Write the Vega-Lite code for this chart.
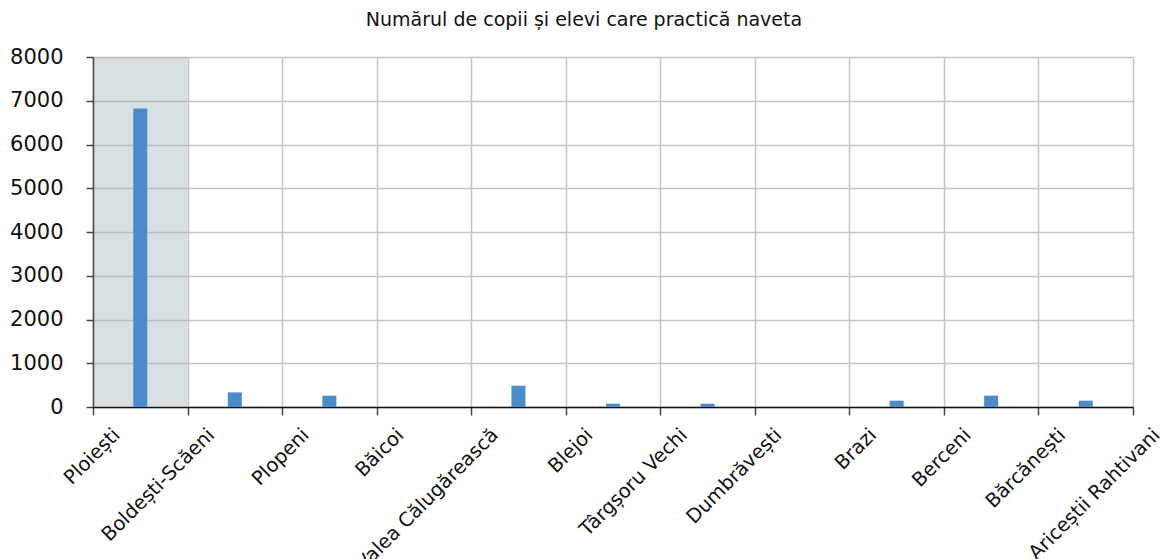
{
  "$schema": "https://vega.github.io/schema/vega-lite/v6.json",
  "width": 1040,
  "height": 350,
  "autosize": {"type": "none"},
  "padding": {"left": 93, "top": 57, "right": 28, "bottom": 152},
  "background": "white",
  "title": {"text": "Numărul de copii și elevi care practică naveta", "font": "DejaVu Sans", "fontSize": 19, "fontWeight": "normal", "color": "#111", "anchor": "middle", "frame": "group", "offset": 16, "dx": -29},
  "data": {"values": [
    {"localitate": "Ploiești", "elevi": 6825},
    {"localitate": "Boldești-Scăeni", "elevi": 334},
    {"localitate": "Plopeni", "elevi": 259},
    {"localitate": "Băicoi", "elevi": 0},
    {"localitate": "Valea Călugărească", "elevi": 487},
    {"localitate": "Blejoi", "elevi": 75},
    {"localitate": "Târgșoru Vechi", "elevi": 75},
    {"localitate": "Dumbrăvești", "elevi": 0},
    {"localitate": "Brazi", "elevi": 144},
    {"localitate": "Berceni", "elevi": 259},
    {"localitate": "Bărcănești", "elevi": 144},
    {"localitate": "Ariceștii Rahtivani", "elevi": null}
  ]},
  "layer": [
    {
      "transform": [{"filter": {"field": "elevi", "valid": true}}],
      "encoding": {
        "x": {"field": "localitate", "type": "nominal", "sort": null,
          "scale": {"domain": ["Ploiești", "Boldești-Scăeni", "Plopeni", "Băicoi", "Valea Călugărească", "Blejoi", "Târgșoru Vechi", "Dumbrăvești", "Brazi", "Berceni", "Bărcănești"], "paddingInner": 0, "paddingOuter": 0},
          "axis": null}
      },
      "layer": [
        {
          "transform": [{"filter": "datum.localitate === 'Ploiești'"}],
          "mark": {"type": "bar", "color": "#9fb2ba", "opacity": 0.4, "width": {"band": 1}},
          "encoding": {
            "y": {"datum": 8000, "type": "quantitative", "scale": {"domain": [0, 8000]}, "title": null},
            "y2": {"datum": 0}
          }
        },
        {
          "mark": {"type": "bar", "color": "#4a8bca", "size": 14},
          "encoding": {
            "y": {"field": "elevi", "type": "quantitative", "title": null}
          }
        }
      ]
    },
    {
      "mark": {"type": "point", "opacity": 0},
      "encoding": {
        "x": {"field": "localitate", "type": "ordinal", "sort": null,
          "scale": {"type": "point", "padding": 0, "domain": ["Ploiești", "Boldești-Scăeni", "Plopeni", "Băicoi", "Valea Călugărească", "Blejoi", "Târgșoru Vechi", "Dumbrăvești", "Brazi", "Berceni", "Bărcănești", "Ariceștii Rahtivani"]},
          "axis": {"title": null, "labelAngle": -45, "labelFont": "DejaVu Sans", "labelFontSize": 19.5, "labelLimit": 0, "labelColor": "#111", "grid": true, "gridColor": "#c4c4c4", "gridWidth": 1.5, "domainColor": "#111", "domainWidth": 1.5, "tickColor": "#444", "tickSize": 8, "tickWidth": 1.5, "labelPadding": 10, "labelOffset": 17}},
        "y": {"field": "elevi", "type": "quantitative", "title": null}
      }
    }
  ],
  "resolve": {"scale": {"x": "independent"}, "axis": {"x": "independent"}},
  "config": {
    "view": {"stroke": null},
    "axisY": {"values": [0, 1000, 2000, 3000, 4000, 5000, 6000, 7000, 8000], "labelFont": "DejaVu Sans", "labelFontSize": 21, "labelColor": "#111", "grid": true, "gridColor": "#c4c4c4", "gridWidth": 1.5, "domainColor": "#111", "domainWidth": 1.5, "tickColor": "#444", "tickSize": 7, "tickWidth": 1.5, "labelPadding": 23, "format": "d"}
  }
}
